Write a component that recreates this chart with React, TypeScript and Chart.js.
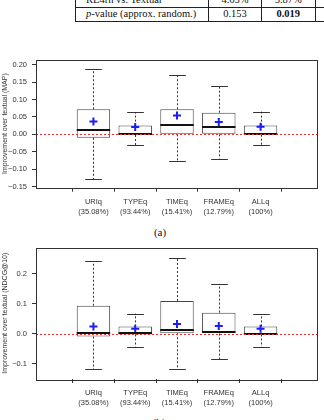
import React, { useEffect, useRef } from "react";
import { Chart, registerables } from "chart.js";

Chart.register(...registerables);

// ---------- data ----------
const categories = ["URIq", "TYPEq", "TIMEq", "FRAMEq", "ALLq"];
const shares = ["(35.08%)", "(93.44%)", "(15.41%)", "(12.79%)", "(100%)"];
const xPositions = [1, 2, 3, 4, 5];

// (a) MAP
const mapLow = [-0.128, -0.032, -0.077, -0.07, -0.032];
const mapQ1 = [-0.01, -0.002, 0.0, 0.0, -0.001];
const mapMedian = [0.013, 0.002, 0.028, 0.022, 0.002];
const mapQ3 = [0.072, 0.025, 0.072, 0.062, 0.025];
const mapHigh = [0.187, 0.064, 0.171, 0.138, 0.065];
const mapMean = [0.037, 0.021, 0.054, 0.035, 0.022];
const mapTicks = [-0.15, -0.1, -0.05, 0, 0.05, 0.1, 0.15, 0.2];

// (b) NDCG@10
const ndcgLow = [-0.12, -0.044, -0.12, -0.085, -0.044];
const ndcgQ1 = [-0.01, -0.003, 0.001, 0.0, -0.003];
const ndcgMedian = [0.002, 0.001, 0.013, 0.004, 0.0];
const ndcgQ3 = [0.093, 0.024, 0.109, 0.07, 0.024];
const ndcgHigh = [0.243, 0.067, 0.254, 0.166, 0.064];
const ndcgMean = [0.024, 0.0165, 0.032, 0.025, 0.0165];
const ndcgTicks = [-0.1, 0, 0.1, 0.2];

// table fragment
const tableRowLabels = ["RE4rh vs. Textual", "p-value (approx. random.)"];
const tableCol1 = ["4.65%", "0.153"];
const tableCol2 = ["5.87%", "0.019"];

const SANS = "'Liberation Sans', Arial, Helvetica, sans-serif";
const SERIF = "'Liberation Serif', 'Times New Roman', serif";

type Stats = {
  low: number[];
  q1: number[];
  med: number[];
  q3: number[];
  high: number[];
  mean: number[];
};

type BoxProps = {
  stats: Stats;
  ticks: number[];
  decimals: number;
  yMin: number;
  yMax: number;
  title: string;
  top: number;
  height: number;
  padTop: number;
  areaHeight: number;
};

function fmt(v: number, d: number) {
  const s = Math.abs(v).toFixed(d);
  return v < -1e-9 ? "\u2212" + s : s;
}

function BoxChart(props: BoxProps) {
  const ref = useRef<HTMLCanvasElement | null>(null);
  useEffect(() => {
    const canvas = ref.current;
    if (!canvas) return;
    const { stats, ticks, decimals, yMin, yMax, title, height, padTop, areaHeight } = props;
    const xAxisHeight = height - padTop - areaHeight;

    const extras = {
      id: "boxExtras",
      beforeDatasetsDraw(chart: any) {
        const { ctx, scales } = chart;
        const x = scales.x;
        const y = scales.y;
        const half = (x.getPixelForValue(2) - x.getPixelForValue(1)) * 0.4;
        ctx.save();
        ctx.strokeStyle = "#333";
        ctx.lineWidth = 1;
        xPositions.forEach((xv, i) => {
          const cx = Math.round(x.getPixelForValue(xv)) + 0.5;
          // dashed whiskers
          ctx.setLineDash([2, 2]);
          ctx.beginPath();
          ctx.moveTo(cx, y.getPixelForValue(stats.q3[i]));
          ctx.lineTo(cx, y.getPixelForValue(stats.high[i]));
          ctx.moveTo(cx, y.getPixelForValue(stats.q1[i]));
          ctx.lineTo(cx, y.getPixelForValue(stats.low[i]));
          ctx.stroke();
          // caps
          ctx.setLineDash([]);
          ctx.beginPath();
          const hy = Math.round(y.getPixelForValue(stats.high[i])) + 0.5;
          const ly = Math.round(y.getPixelForValue(stats.low[i])) + 0.5;
          ctx.moveTo(cx - half / 2, hy);
          ctx.lineTo(cx + half / 2, hy);
          ctx.moveTo(cx - half / 2, ly);
          ctx.lineTo(cx + half / 2, ly);
          ctx.stroke();
        });
        ctx.restore();
      },
      afterDatasetsDraw(chart: any) {
        const { ctx, scales, chartArea } = chart;
        const x = scales.x;
        const y = scales.y;
        const half = (x.getPixelForValue(2) - x.getPixelForValue(1)) * 0.4;
        ctx.save();
        // medians
        ctx.strokeStyle = "#111";
        ctx.lineWidth = 2;
        xPositions.forEach((xv, i) => {
          const cx = x.getPixelForValue(xv);
          const my = Math.round(y.getPixelForValue(stats.med[i]));
          ctx.beginPath();
          ctx.moveTo(cx - half, my);
          ctx.lineTo(cx + half, my);
          ctx.stroke();
        });
        // zero reference line
        ctx.strokeStyle = "#e8302c";
        ctx.lineWidth = 1;
        ctx.setLineDash([2, 2]);
        const zy = Math.round(y.getPixelForValue(0)) + 0.5;
        ctx.beginPath();
        ctx.moveTo(chartArea.left, zy);
        ctx.lineTo(chartArea.right, zy);
        ctx.stroke();
        ctx.setLineDash([]);
        // frame
        ctx.strokeStyle = "#333";
        ctx.strokeRect(
          Math.round(chartArea.left) + 0.5,
          Math.round(chartArea.top) + 0.5,
          Math.round(chartArea.right - chartArea.left) - 1,
          Math.round(chartArea.bottom - chartArea.top)
        );
        ctx.restore();
      },
    };

    const chart = new Chart(canvas, {
      type: "bar",
      data: {
        datasets: [
          {
            type: "scatter",
            data: xPositions.map((xv, i) => ({ x: xv, y: stats.mean[i] })),
            pointStyle: "cross",
            pointRadius: 4,
            pointBorderWidth: 2,
            borderColor: "#1c1cf5",
            backgroundColor: "#1c1cf5",
            order: 0,
          } as any,
          {
            type: "bar",
            data: xPositions.map((xv, i) => ({ x: xv, y: [stats.q1[i], stats.q3[i]] })),
            backgroundColor: "#ffffff",
            borderColor: "#444",
            borderWidth: 1,
            borderSkipped: false,
            categoryPercentage: 0.8,
            barPercentage: 1,
            order: 1,
          } as any,
        ],
      },
      options: {
        responsive: false,
        animation: false,
        devicePixelRatio: 1,
        events: [],
        layout: { padding: { top: padTop, right: 3, left: 0, bottom: 0 } },
        plugins: { legend: { display: false }, tooltip: { enabled: false } },
        scales: {
          x: {
            type: "linear",
            min: 0.3,
            max: 5.7,
            afterBuildTicks: (s: any) => {
              s.ticks = xPositions.map((v) => ({ value: v }));
            },
            afterFit: (s: any) => {
              s.height = xAxisHeight;
            },
            grid: { drawOnChartArea: false, drawTicks: true, tickLength: 4, color: "#333" },
            border: { display: false },
            ticks: {
              autoSkip: false,
              maxRotation: 0,
              padding: 5,
              color: "#333",
              font: { family: SANS, size: 7.5, lineHeight: "10px" },
              callback: (_v: any, i: number) => [categories[i], shares[i]],
            },
          },
          y: {
            type: "linear",
            min: yMin,
            max: yMax,
            afterBuildTicks: (s: any) => {
              s.ticks = ticks.map((v) => ({ value: v }));
            },
            afterFit: (s: any) => {
              s.width = 36;
            },
            grid: { drawOnChartArea: false, drawTicks: true, tickLength: 4, color: "#333" },
            border: { display: false },
            ticks: {
              padding: 5,
              color: "#333",
              font: { family: SANS, size: 7.5 },
              callback: (v: any) => fmt(Number(v), decimals),
            },
            title: {
              display: true,
              text: title,
              color: "#333",
              padding: { top: 0.5, bottom: 0 },
              font: { family: SANS, size: 7 },
            },
          },
        },
      } as any,
      plugins: [extras],
    });
    return () => chart.destroy();
  }, []);

  return (
    <canvas
      ref={ref}
      width={324}
      height={props.height}
      style={{ position: "absolute", left: 0, top: props.top, width: 324, height: props.height }}
    />
  );
}

function Centered(p: { x: number; y: number; children: any; style?: any }) {
  return (
    <span
      style={{
        position: "absolute",
        left: p.x,
        top: p.y,
        transform: "translate(-50%, -50%)",
        whiteSpace: "nowrap",
        lineHeight: 1,
        ...p.style,
      }}
    >
      {p.children}
    </span>
  );
}

export default function App() {
  const line = (s: any) => <div style={{ position: "absolute", background: "#222", ...s }} />;
  const rowY = [-0.5, 14.3];
  const tableFont = { fontFamily: SERIF, fontSize: 10.5, color: "#111" };
  return (
    <div
      style={{
        position: "fixed",
        left: 0,
        top: 0,
        width: 324,
        height: 420,
        overflow: "hidden",
        background: "#fff",
      }}
    >
      {/* table fragment */}
      {line({ left: 75, top: 7, width: 249, height: 1 })}
      {line({ left: 75, top: 21, width: 249, height: 1 })}
      {line({ left: 75, top: -2, width: 1, height: 24 })}
      {line({ left: 208, top: -2, width: 1, height: 24 })}
      {line({ left: 261, top: -2, width: 1, height: 24 })}
      {line({ left: 315, top: -2, width: 1, height: 24 })}
      {tableRowLabels.map((t, i) => (
        <span
          key={"r" + i}
          style={{
            position: "absolute",
            left: 86,
            top: rowY[i],
            transform: "translateY(-50%)",
            whiteSpace: "nowrap",
            lineHeight: 1,
            ...tableFont,
          }}
        >
          {i === 1 ? (
            <>
              <i>p</i>
              {t.slice(1)}
            </>
          ) : (
            t
          )}
        </span>
      ))}
      {tableCol1.map((t, i) => (
        <Centered key={"a" + i} x={235} y={rowY[i]} style={tableFont}>
          {t}
        </Centered>
      ))}
      {tableCol2.map((t, i) => (
        <Centered key={"b" + i} x={288.3} y={rowY[i]} style={{ ...tableFont, fontWeight: i === 1 ? "bold" : "normal" }}>
          {t}
        </Centered>
      ))}

      <BoxChart
        stats={{ low: mapLow, q1: mapQ1, med: mapMedian, q3: mapQ3, high: mapHigh, mean: mapMean }}
        ticks={mapTicks}
        decimals={2}
        yMin={-0.153}
        yMax={0.2145}
        title="Improvement over textual (MAP)"
        top={50}
        height={170}
        padTop={5.7}
        areaHeight={132}
      />
      <Centered x={160} y={231.5} style={{ fontFamily: SERIF, fontSize: 11, color: "#111" }}>
        (a)
      </Centered>

      <BoxChart
        stats={{ low: ndcgLow, q1: ndcgQ1, med: ndcgMedian, q3: ndcgQ3, high: ndcgHigh, mean: ndcgMean }}
        ticks={ndcgTicks}
        decimals={1}
        yMin={-0.152}
        yMax={0.288}
        title="Improvement over textual (NDCG@10)"
        top={238}
        height={174}
        padTop={7.7}
        areaHeight={133.3}
      />
      <Centered x={159} y={422} style={{ fontFamily: SERIF, fontSize: 11, color: "#111" }}>
        (b)
      </Centered>
    </div>
  );
}
